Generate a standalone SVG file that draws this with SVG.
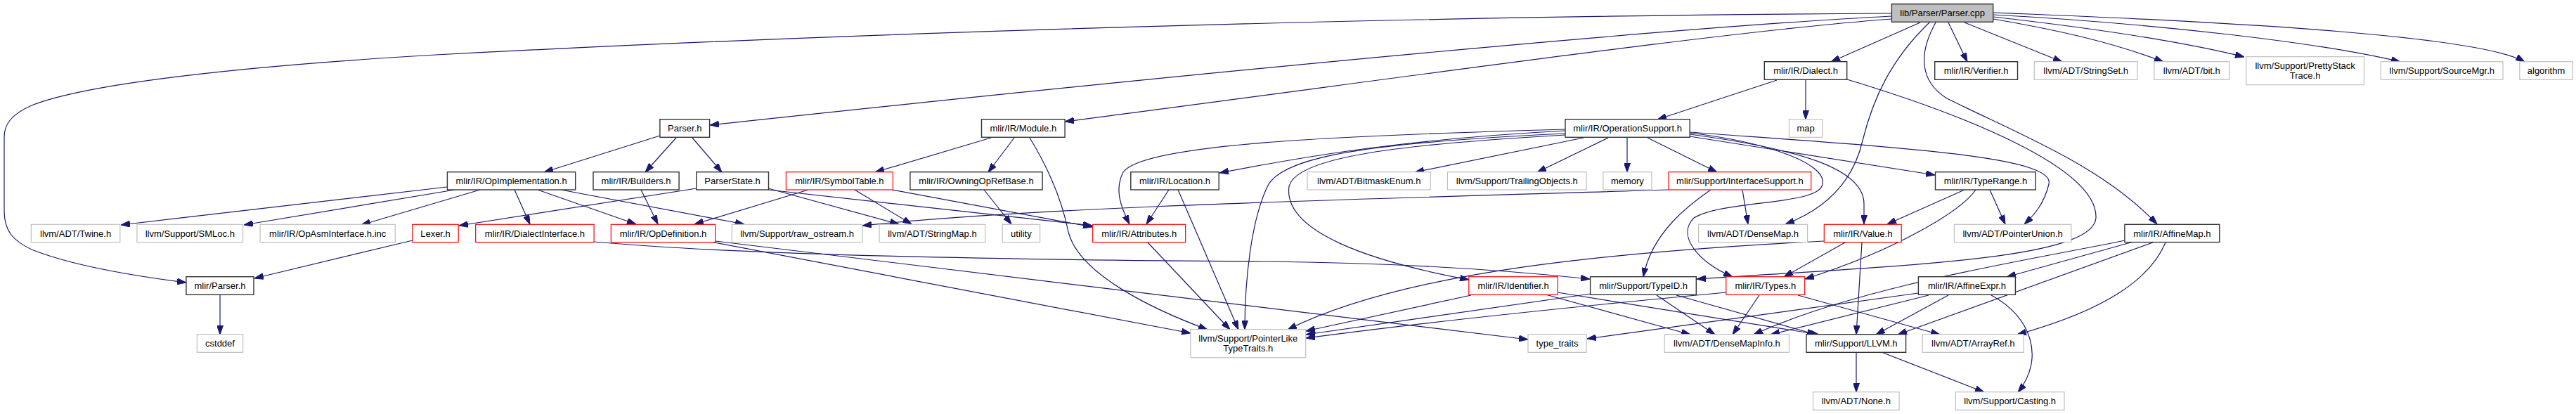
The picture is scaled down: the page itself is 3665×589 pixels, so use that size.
<svg xmlns="http://www.w3.org/2000/svg" width="3665" height="589" viewBox="0 0 3665 589">
<style>
rect{fill:#fff;stroke-width:1.2}
.doc rect{stroke:#333;stroke-width:1.4}
.cur rect{fill:#bfbfbf;stroke:#333;stroke-width:1.4}
.ext rect{stroke:#bfbfbf}
.tr rect{stroke:#ff0000}
text{font-family:"Liberation Sans",Arial,Helvetica,sans-serif;font-size:13px;text-anchor:middle;fill:#000}
#edges path{fill:none;stroke:#191970;stroke-width:1.2;marker-end:url(#a)}
</style>
<defs>
<marker id="a" viewBox="0 0 13 9" refX="13" refY="4.5" markerWidth="13" markerHeight="9" markerUnits="userSpaceOnUse" orient="auto">
<path d="M0,0 L13,4.5 L0,9 z" fill="#191970" stroke="#191970" stroke-width="1"/>
</marker>
</defs>
<rect x="0" y="0" width="3665" height="589" style="fill:#fff;stroke:none"/>
<g id="edges">
<path d="M2691,19 C2100,22 1300,42 620,78 C330,95 120,120 45,150 C15,163 6,178 6,195 L6,300 C6,330 20,343 45,355 C95,375 170,390 265,402"/>
<path d="M2691,23 C2400,38 1800,93 1010,178"/>
<path d="M2691,27 C2450,45 2000,110 1515,173"/>
<path d="M2732,32 L2605,88"/>
<path d="M2745,32 C2690,85 2665,140 2650,200 C2635,265 2590,300 2540,319"/>
<path d="M2754,32 C2730,75 2730,115 2770,140 C2870,190 2990,235 3069,319"/>
<path d="M2772,32 L2799,88"/>
<path d="M2795,32 L2934,88"/>
<path d="M2836,27 C2940,45 3010,62 3078,88"/>
<path d="M2836,24 C2960,38 3100,58 3193,81"/>
<path d="M2836,21 C3060,33 3300,60 3415,88"/>
<path d="M2836,18 C3200,32 3530,52 3592,88"/>
<path d="M939,193 L774,245"/>
<path d="M962,196 L918,245"/>
<path d="M985,196 L1027,245"/>
<path d="M1410,196 L1245,245"/>
<path d="M1443,196 L1406,245"/>
<path d="M1465,196 C1495,245 1512,290 1520,330 C1535,390 1640,440 1718,469"/>
<path d="M2528,114 L2358,170"/>
<path d="M2569,114 L2569,170"/>
<path d="M2628,113 C2800,165 2985,240 2982,310 C2978,370 2700,378 2414,397"/>
<path d="M2253,196 L2013,245"/>
<path d="M2288,196 L2187,245"/>
<path d="M2315,196 L2315,245"/>
<path d="M2344,196 L2443,245"/>
<path d="M2404,194 L2753,249"/>
<path d="M2404,188 C2700,210 2925,222 2915,262 C2908,290 2895,305 2880,319"/>
<path d="M2404,191 C2560,212 2652,240 2652,290 L2652,319"/>
<path d="M2404,189 C2520,203 2605,235 2592,265 C2580,292 2450,285 2410,310 C2385,335 2415,372 2465,394"/>
<path d="M2227,192 C2000,205 1845,222 1834,265 C1825,330 1950,372 2090,398"/>
<path d="M2227,190 C1950,203 1830,222 1805,262 C1780,310 1771,400 1771,469"/>
<path d="M2227,186 C2000,198 1860,222 1735,246"/>
<path d="M2227,184 C1900,193 1625,205 1598,245 C1585,270 1595,295 1607,319"/>
<path d="M2374,270 C2000,282 1500,292 1227,321"/>
<path d="M2479,270 L2487,319"/>
<path d="M2434,270 C2405,290 2350,330 2338,394"/>
<path d="M1663,270 L1631,319"/>
<path d="M1676,270 L1762,469"/>
<path d="M1633,345 L1750,469"/>
<path d="M1150,270 L988,319"/>
<path d="M1216,270 L1297,319"/>
<path d="M1269,270 L1554,323"/>
<path d="M991,268 L653,321"/>
<path d="M1093,268 L1279,319"/>
<path d="M1093,270 L1554,321"/>
<path d="M636,266 L172,320"/>
<path d="M647,270 L347,320"/>
<path d="M683,270 L514,320"/>
<path d="M732,270 L754,319"/>
<path d="M765,270 L905,319"/>
<path d="M798,270 L1059,319"/>
<path d="M912,270 L936,319"/>
<path d="M1400,270 L1439,319"/>
<path d="M587,342 L362,396"/>
<path d="M313,419 L313,476"/>
<path d="M845,344 C1000,358 1300,369 1800,372 C2000,374 2150,385 2262,397"/>
<path d="M1018,343 L2174,483"/>
<path d="M1011,344 L1694,474"/>
<path d="M2625,345 L2538,394"/>
<path d="M2649,345 L2641,476"/>
<path d="M2595,343 C2300,358 2000,385 1832,469"/>
<path d="M2503,420 L2465,476"/>
<path d="M2558,420 L2760,476"/>
<path d="M2456,416 C2200,440 2000,462 1858,481"/>
<path d="M2263,418 L1858,476"/>
<path d="M2385,420 L2584,476"/>
<path d="M2357,420 L2440,476"/>
<path d="M2093,420 L1858,471"/>
<path d="M2199,419 L2405,476"/>
<path d="M2216,416 L2588,476"/>
<path d="M2729,417 L2258,482"/>
<path d="M2744,420 L2519,476"/>
<path d="M2772,420 L2669,476"/>
<path d="M2833,420 C2890,450 2910,510 2871,558"/>
<path d="M3035,344 L2855,394"/>
<path d="M3063,345 L2700,476"/>
<path d="M3081,345 C3060,395 3000,440 2870,476"/>
<path d="M3023,342 C2900,368 2650,405 2495,476"/>
<path d="M2641,501 L2641,558"/>
<path d="M2677,501 L2823,558"/>
<path d="M2795,270 L2685,319"/>
<path d="M2811,270 C2790,300 2700,355 2568,397"/>
<path d="M2831,270 L2853,319"/>
</g>
<g id="n0" class="cur"><rect x="2691.4" y="5.7" width="144.3" height="25.6"/><text x="2763.6" y="23">lib/Parser/Parser.cpp</text></g>
<g id="n1" class="doc"><rect x="2510.3" y="87.7" width="117.4" height="25.6"/><text x="2569" y="105">mlir/IR/Dialect.h</text></g>
<g id="n2" class="doc"><rect x="2752.7" y="87.7" width="117.8" height="25.6"/><text x="2811.6" y="105">mlir/IR/Verifier.h</text></g>
<g id="n3" class="ext"><rect x="2894.3" y="87.7" width="146.7" height="25.6"/><text x="2967.7" y="105">llvm/ADT/StringSet.h</text></g>
<g id="n4" class="ext"><rect x="3064.8" y="87.7" width="107" height="25.6"/><text x="3118.3" y="105">llvm/ADT/bit.h</text></g>
<g id="n5" class="ext"><rect x="3195.7" y="80.7" width="167.8" height="40"/><text x="3279.6" y="97.5">llvm/Support/PrettyStack</text><text x="3279.6" y="111.5">Trace.h</text></g>
<g id="n6" class="ext"><rect x="3387.4" y="87.7" width="173.6" height="25.6"/><text x="3474.2" y="105">llvm/Support/SourceMgr.h</text></g>
<g id="n7" class="ext"><rect x="3584.8" y="87.7" width="75.4" height="25.6"/><text x="3622.5" y="105">algorithm</text></g>
<g id="n8" class="doc"><rect x="938.9" y="169.7" width="70.7" height="25.6"/><text x="974.3" y="187">Parser.h</text></g>
<g id="n9" class="doc"><rect x="1396.5" y="169.7" width="118.6" height="25.6"/><text x="1455.8" y="187">mlir/IR/Module.h</text></g>
<g id="n10" class="doc"><rect x="2227" y="169.7" width="177.2" height="25.6"/><text x="2315.6" y="187">mlir/IR/OperationSupport.h</text></g>
<g id="n11" class="ext"><rect x="2545.5" y="169.7" width="47.1" height="25.6"/><text x="2569.1" y="187">map</text></g>
<g id="n12" class="doc"><rect x="636.4" y="244.7" width="182.3" height="25.3"/><text x="727.6" y="261.8">mlir/IR/OpImplementation.h</text></g>
<g id="n13" class="doc"><rect x="844" y="244.7" width="122.1" height="25.3"/><text x="905.1" y="261.8">mlir/IR/Builders.h</text></g>
<g id="n14" class="doc"><rect x="990.7" y="244.7" width="102.8" height="25.3"/><text x="1042.1" y="261.8">ParserState.h</text></g>
<g id="n15" class="tr"><rect x="1118.4" y="244.7" width="152" height="25.3"/><text x="1194.4" y="261.8">mlir/IR/SymbolTable.h</text></g>
<g id="n16" class="doc"><rect x="1294.9" y="244.7" width="188.2" height="25.3"/><text x="1389" y="261.8">mlir/IR/OwningOpRefBase.h</text></g>
<g id="n17" class="doc"><rect x="1608.8" y="244.7" width="125.4" height="25.3"/><text x="1671.5" y="261.8">mlir/IR/Location.h</text></g>
<g id="n18" class="ext"><rect x="1860.1" y="244.7" width="175.2" height="25.3"/><text x="1947.7" y="261.8">llvm/ADT/BitmaskEnum.h</text></g>
<g id="n19" class="ext"><rect x="2059.4" y="244.7" width="197.7" height="25.3"/><text x="2158.3" y="261.8">llvm/Support/TrailingObjects.h</text></g>
<g id="n20" class="ext"><rect x="2280.8" y="244.7" width="69.2" height="25.3"/><text x="2315.4" y="261.8">memory</text></g>
<g id="n21" class="tr"><rect x="2374.1" y="244.7" width="202.6" height="25.3"/><text x="2475.4" y="261.8">mlir/Support/InterfaceSupport.h</text></g>
<g id="n22" class="doc"><rect x="2753.5" y="244.7" width="142.7" height="25.3"/><text x="2824.9" y="261.8">mlir/IR/TypeRange.h</text></g>
<g id="n23" class="ext"><rect x="44.3" y="319.3" width="126.5" height="25.3"/><text x="107.6" y="336.5">llvm/ADT/Twine.h</text></g>
<g id="n24" class="ext"><rect x="194.9" y="319.3" width="150.7" height="25.3"/><text x="270.3" y="336.5">llvm/Support/SMLoc.h</text></g>
<g id="n25" class="ext"><rect x="370.1" y="319.3" width="192.2" height="25.3"/><text x="466.2" y="336.5">mlir/IR/OpAsmInterface.h.inc</text></g>
<g id="n26" class="tr"><rect x="586.8" y="319.3" width="65.4" height="25.3"/><text x="619.5" y="336.5">Lexer.h</text></g>
<g id="n27" class="tr"><rect x="676.7" y="319.3" width="168.4" height="25.3"/><text x="760.9" y="336.5">mlir/IR/DialectInterface.h</text></g>
<g id="n28" class="tr"><rect x="869.3" y="319.3" width="148.3" height="25.3"/><text x="943.5" y="336.5">mlir/IR/OpDefinition.h</text></g>
<g id="n29" class="ext"><rect x="1041.3" y="319.3" width="185.6" height="25.3"/><text x="1134.1" y="336.5">llvm/Support/raw_ostream.h</text></g>
<g id="n30" class="ext"><rect x="1251" y="319.3" width="150.7" height="25.3"/><text x="1326.4" y="336.5">llvm/ADT/StringMap.h</text></g>
<g id="n31" class="ext"><rect x="1426.2" y="319.3" width="53.4" height="25.3"/><text x="1452.9" y="336.5">utility</text></g>
<g id="n32" class="tr"><rect x="1554.7" y="319.3" width="132" height="25.3"/><text x="1620.7" y="336.5">mlir/IR/Attributes.h</text></g>
<g id="n33" class="ext"><rect x="2416.6" y="319.3" width="155" height="25.3"/><text x="2494.1" y="336.5">llvm/ADT/DenseMap.h</text></g>
<g id="n34" class="tr"><rect x="2595.3" y="319.3" width="109.9" height="25.3"/><text x="2650.3" y="336.5">mlir/IR/Value.h</text></g>
<g id="n35" class="ext"><rect x="2780.4" y="319.3" width="166.4" height="25.3"/><text x="2863.6" y="336.5">llvm/ADT/PointerUnion.h</text></g>
<g id="n36" class="doc"><rect x="3022.9" y="319.3" width="134.9" height="25.3"/><text x="3090.4" y="336.5">mlir/IR/AffineMap.h</text></g>
<g id="n37" class="doc"><rect x="264.9" y="393.7" width="96.1" height="25.6"/><text x="313" y="411">mlir/Parser.h</text></g>
<g id="n38" class="tr"><rect x="2089.8" y="393.7" width="126.5" height="25.6"/><text x="2153.1" y="411">mlir/IR/Identifier.h</text></g>
<g id="n39" class="doc"><rect x="2262.6" y="393.7" width="150.7" height="25.6"/><text x="2338" y="411">mlir/Support/TypeID.h</text></g>
<g id="n40" class="tr"><rect x="2455.8" y="393.7" width="111.9" height="25.6"/><text x="2511.8" y="411">mlir/IR/Types.h</text></g>
<g id="n41" class="doc"><rect x="2729.4" y="393.7" width="138" height="25.6"/><text x="2798.4" y="411">mlir/IR/AffineExpr.h</text></g>
<g id="n42" class="ext"><rect x="280.3" y="475.7" width="65.3" height="25.6"/><text x="313" y="493">cstddef</text></g>
<g id="n43" class="ext"><rect x="1693.9" y="468.7" width="163.8" height="40"/><text x="1775.8" y="485.5">llvm/Support/PointerLike</text><text x="1775.8" y="499.5">TypeTraits.h</text></g>
<g id="n44" class="ext"><rect x="2174" y="475.7" width="83.1" height="25.6"/><text x="2215.6" y="493">type_traits</text></g>
<g id="n45" class="ext"><rect x="2368.2" y="475.7" width="177.3" height="25.6"/><text x="2456.9" y="493">llvm/ADT/DenseMapInfo.h</text></g>
<g id="n46" class="doc"><rect x="2570" y="475.7" width="141.6" height="25.6"/><text x="2640.8" y="493">mlir/Support/LLVM.h</text></g>
<g id="n47" class="ext"><rect x="2735.3" y="475.7" width="143.9" height="25.6"/><text x="2807.3" y="493">llvm/ADT/ArrayRef.h</text></g>
<g id="n48" class="ext"><rect x="2579.5" y="557.7" width="122.6" height="25.6"/><text x="2640.8" y="575">llvm/ADT/None.h</text></g>
<g id="n49" class="ext"><rect x="2782.4" y="557.7" width="154.6" height="25.6"/><text x="2859.7" y="575">llvm/Support/Casting.h</text></g>
</svg>
